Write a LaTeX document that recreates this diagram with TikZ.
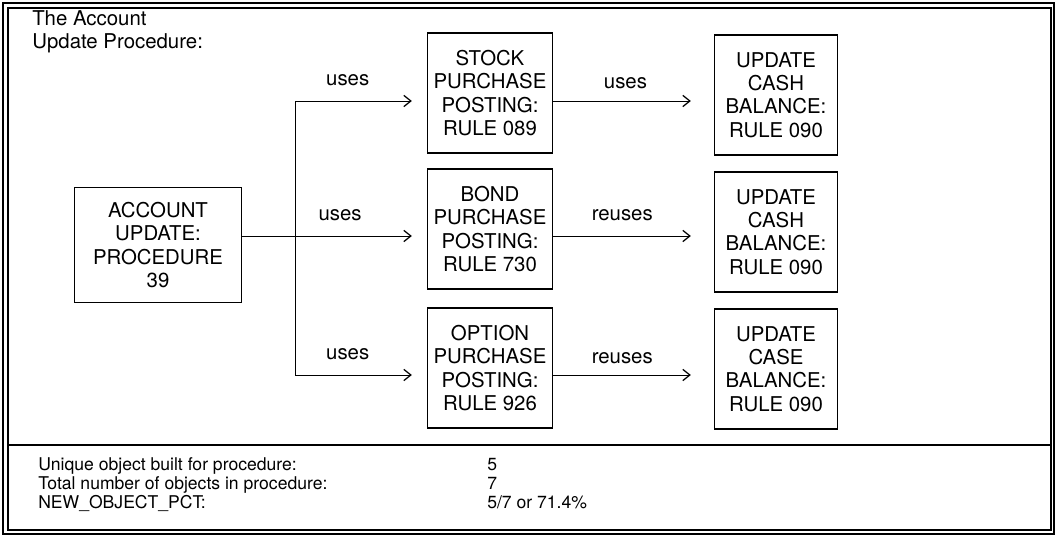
\documentclass[tikz,border=0pt]{standalone}
\usepackage{fontspec}
\setmainfont{TeX Gyre Heros}
\usetikzlibrary{arrows.meta, positioning}
\tikzstyle{rulebox} = [rectangle, draw=black, line width=0.9pt, align=center, minimum width=3.125cm, minimum height=3cm, inner sep=1pt]
\tikzstyle{arrow} = [line width=0.7pt, -{Straight Barb[length=5pt,width=8pt,line width=0.9pt]}]
\tikzstyle{row} = [anchor=base west, inner sep=0pt, font=\fontsize{12.5}{14}\selectfont]

\begin{document}
\begin{tikzpicture}[x=0.025cm, y=-0.025cm, every node/.style={font=\fontsize{14.5}{16.5}\selectfont}]
\useasboundingbox (0,0) rectangle (1057,537);

% Frame
\draw[line width=0.8pt] (3,3) rectangle (1054,534);
\draw[line width=0.8pt] (8,8) rectangle (1051,530);
\draw[line width=0.8pt] (8,445) -- (1051,445);

\node (title) [anchor=north west, align=left, inner sep=0pt] at (32,10) {The Account\\Update Procedure:};

% Procedure
\node (acct) [rulebox, minimum width=4.175cm, minimum height=2.875cm] at (158,245) {ACCOUNT\\UPDATE:\\PROCEDURE\\39};
\coordinate (split) at (295,236);

% Rules used by the procedure
\node (stock) [rulebox] at (490,93) {STOCK\\PURCHASE\\POSTING:\\RULE 089};
\node (bond) [rulebox] at (490,229) {BOND\\PURCHASE\\POSTING:\\RULE 730};
\node (option) [rulebox] at (490,368) {OPTION\\PURCHASE\\POSTING:\\RULE 926};

\node (cash-a) [rulebox, minimum width=3.075cm] at (776,95) {UPDATE\\CASH\\BALANCE:\\RULE 090};
\node (cash-b) [rulebox, minimum width=3.075cm] at (776,232) {UPDATE\\CASH\\BALANCE:\\RULE 090};
\node (case-c) [rulebox, minimum width=3.075cm] at (776,369) {UPDATE\\CASE\\BALANCE:\\RULE 090};

% Arrow rows
\coordinate (row-a) at (0,101);
\coordinate (row-c) at (0,375);

% Arrows
\draw [arrow, shorten >=0.375cm] (split) |- node[above=7pt, pos=0.7] {uses} (stock.west |- row-a);
\draw [arrow, shorten >=0.375cm] (acct.east |- split) -- node[above=7pt, pos=0.53] {uses} (split -| bond.west);
\draw [arrow, shorten >=0.375cm] (split) |- node[above=7pt, pos=0.7] {uses} (option.west |- row-c);

\draw [arrow, shorten >=0.575cm] (stock.east |- row-a) -- node[above=5pt, pos=0.45] {uses} (cash-a.west |- row-a);
\draw [arrow, shorten >=0.575cm] (bond.east |- split) -- node[above=7pt, pos=0.43] {reuses} (cash-b.west |- split);
\draw [arrow, shorten >=0.575cm] (option.east |- row-c) -- node[above=4pt, pos=0.43] {reuses} (case-c.west |- row-c);

% Counts
\node (unique) [row] at (38,470) {Unique object built for procedure:};
\node (total) [row] at (38,489) {Total number of objects in procedure:};
\node (pct) [row] at (38,508) {NEW\_OBJECT\_PCT:};
\node (unique-n) [row] at (487,470) {5};
\node (total-n) [row] at (487,489) {7};
\node (pct-n) [row] at (487,508) {5/7 or 71.4\%};

\end{tikzpicture}
\end{document}
